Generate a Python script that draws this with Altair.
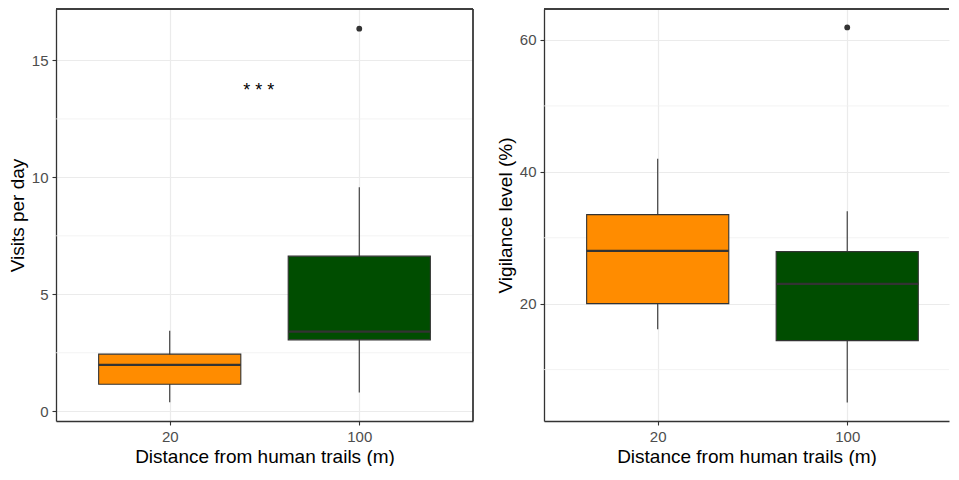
import json
import altair as alt
import pandas as pd

# ---------------- data ----------------
categories = ["20", "100"]          # distance from human trails (m)
positions = [1, 2]                  # discrete slot of each category
fill_colors = ["#FF8C00", "#004D00"]

# Panel 1: visits per day
visits_low = [0.38, 0.80]
visits_q1 = [1.15, 3.05]
visits_median = [1.98, 3.40]
visits_q3 = [2.44, 6.63]
visits_high = [3.44, 9.58]
visits_outlier_pos = [2]
visits_outlier_val = [16.36]
visits_major_ticks = [0, 5, 10, 15]
visits_minor_ticks = [2.5, 7.5, 12.5]
signif_label = ["* * *"]
signif_pos = [1.47]
signif_val = [13.7]

# Panel 2: vigilance level (%)
vig_low = [16.1, 5.0]
vig_q1 = [20.0, 14.4]
vig_median = [28.0, 23.0]
vig_q3 = [33.5, 27.9]
vig_high = [42.0, 34.0]
vig_outlier_pos = [2]
vig_outlier_val = [61.9]
vig_major_ticks = [20, 40, 60]
vig_minor_ticks = [10, 30, 50]

FONT = "Liberation Sans"
DARK = "#333333"
PLOT_H = 412


def panel(low, q1, med, q3, high, out_pos, out_val, ydomain, ymajor, yminor,
          ytitle, xdomain, width, right_border=True, annot=None):
    df = pd.DataFrame({"cat": categories, "pos": positions, "low": low, "q1": q1,
                       "med": med, "q3": q3, "high": high})
    out_df = pd.DataFrame({"pos": out_pos, "val": out_val})
    minor_df = pd.DataFrame({"v": yminor})

    xscale = alt.Scale(domain=xdomain, nice=False, zero=False)
    yscale = alt.Scale(domain=ydomain, nice=False, zero=False)
    label_expr = json.dumps(categories) + "[datum.value - 1]"

    xaxis = alt.Axis(values=positions, labelExpr=label_expr, grid=True,
                     gridColor="#EBEBEB", gridWidth=1.2,
                     domain=True, domainColor=DARK, domainWidth=1.3,
                     tickColor=DARK, tickSize=4, tickWidth=1.1,
                     labelColor="#4D4D4D", labelFontSize=15, labelFont=FONT,
                     labelPadding=4, title="Distance from human trails (m)",
                     titleFont=FONT, titleFontSize=19, titleFontWeight="normal",
                     titleColor="black", titlePadding=3)
    yaxis = alt.Axis(values=ymajor, grid=True, gridColor="#EBEBEB", gridWidth=1.2,
                     domain=True, domainColor=DARK, domainWidth=1.3,
                     tickColor=DARK, tickSize=4, tickWidth=1.1,
                     labelColor="#4D4D4D", labelFontSize=15, labelFont=FONT,
                     labelPadding=4, title=ytitle, titleFont=FONT,
                     titleFontSize=19, titleFontWeight="normal",
                     titleColor="black", titlePadding=4)

    minor = alt.Chart(minor_df).mark_rule(color="#F0F0F0", strokeWidth=0.8).encode(
        y=alt.Y("v:Q", scale=yscale, axis=yaxis))

    whisk = alt.Chart(df).mark_rule(color=DARK, strokeWidth=1.1).encode(
        x=alt.X("pos:Q", scale=xscale, axis=xaxis),
        y=alt.Y("low:Q", scale=yscale, axis=yaxis),
        y2="high:Q")

    base = alt.Chart(df).transform_calculate(
        x0="datum.pos - 0.375", x1="datum.pos + 0.375")

    box = base.mark_rect(stroke=DARK, strokeWidth=1.1).encode(
        x=alt.X("x0:Q", scale=xscale, axis=xaxis), x2="x1:Q",
        y=alt.Y("q1:Q", scale=yscale, axis=yaxis), y2="q3:Q",
        color=alt.Color("cat:N", scale=alt.Scale(domain=categories, range=fill_colors),
                        legend=None))

    median = base.mark_rule(color=DARK, strokeWidth=2.2).encode(
        x=alt.X("x0:Q", scale=xscale, axis=xaxis), x2="x1:Q",
        y=alt.Y("med:Q", scale=yscale, axis=yaxis))

    outl = alt.Chart(out_df).mark_circle(color=DARK, size=34, opacity=1).encode(
        x=alt.X("pos:Q", scale=xscale, axis=xaxis),
        y=alt.Y("val:Q", scale=yscale, axis=yaxis))

    top = alt.Chart(df).mark_rule(color=DARK, strokeWidth=1.3).encode(
        y=alt.value(0), x=alt.value(0), x2=alt.value(width))

    layers = [minor, whisk, box, median, outl, top]
    if right_border:
        layers.append(alt.Chart(df).mark_rule(color=DARK, strokeWidth=1.3).encode(
            x=alt.value(width), y=alt.value(0), y2=alt.value(PLOT_H)))
    if annot is not None:
        layers.append(annot(xscale, yscale, xaxis, yaxis))
    return alt.layer(*layers).properties(width=width, height=PLOT_H)


def make_annot(xscale, yscale, xaxis, yaxis):
    annot_df = pd.DataFrame({"pos": signif_pos, "val": signif_val, "t": signif_label})
    return alt.Chart(annot_df).mark_text(fontSize=18, font=FONT, color="black").encode(
        x=alt.X("pos:Q", scale=xscale, axis=xaxis),
        y=alt.Y("val:Q", scale=yscale, axis=yaxis), text="t:N")


left = panel(visits_low, visits_q1, visits_median, visits_q3, visits_high,
             visits_outlier_pos, visits_outlier_val, [-0.42, 17.2],
             visits_major_ticks, visits_minor_ticks, "Visits per day",
             [0.4, 2.6], 417, right_border=True, annot=make_annot)

right = panel(vig_low, vig_q1, vig_median, vig_q3, vig_high,
              vig_outlier_pos, vig_outlier_val, [2.2, 64.7],
              vig_major_ticks, vig_minor_ticks, "Vigilance level (%)",
              [0.4, 2.537], 405, right_border=False)

chart = alt.hconcat(left, right, spacing=22).properties(
    padding={"left": 0, "top": 0, "right": 0, "bottom": 0},
    background="white",
).configure_view(stroke=None)

chart.save("out.html", embed_options={"renderer": "svg", "actions": False})
